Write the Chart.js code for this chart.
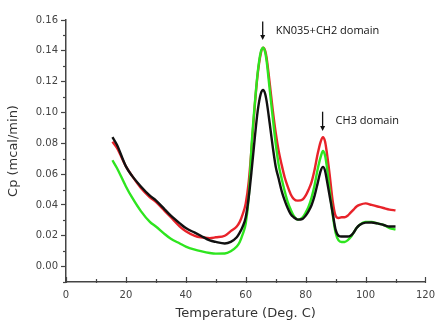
<!DOCTYPE html>
<html>
<head>
<meta charset="utf-8">
<script src="https://cdn.jsdelivr.net/npm/chart.js@4"></script>
<style>
  html, body { margin: 0; padding: 0; background: #fff; }
  #wrap { width: 438px; height: 323px; position: relative; }
</style>
</head>
<body>
<div id="wrap"><canvas id="dsc"></canvas></div>
<script>
// temperatures (Deg. C)
const temps = [15.5, 17, 20, 22, 25, 28, 30, 33, 35, 38, 40, 43, 45, 48, 50, 53, 55, 57, 58, 59, 60, 61, 62, 63, 64, 65, 65.8, 66.5, 67, 68, 69, 70, 71, 72, 73, 74, 75, 76, 77.4, 79, 80, 81, 82, 83, 84, 85, 85.8, 86.5, 87, 88, 89, 90, 91, 92, 93, 94, 95, 96, 97, 98, 100, 102, 104, 106, 108, 110];

const cpRed = [0.081, 0.077, 0.065, 0.059, 0.051, 0.045, 0.042, 0.036, 0.032, 0.026, 0.023, 0.020, 0.019, 0.0185, 0.019, 0.020, 0.023, 0.026, 0.029, 0.034, 0.041, 0.055, 0.078, 0.104, 0.125, 0.138, 0.142, 0.140, 0.135, 0.119, 0.102, 0.087, 0.075, 0.066, 0.058, 0.052, 0.047, 0.044, 0.0428, 0.0435, 0.046, 0.050, 0.055, 0.063, 0.073, 0.081, 0.084, 0.081, 0.075, 0.060, 0.043, 0.033, 0.0315, 0.032, 0.032, 0.033, 0.035, 0.037, 0.039, 0.040, 0.041, 0.040, 0.039, 0.038, 0.037, 0.0365];

const cpBlack = [0.084, 0.079, 0.065, 0.059, 0.052, 0.046, 0.043, 0.037, 0.033, 0.028, 0.025, 0.022, 0.020, 0.017, 0.016, 0.015, 0.016, 0.019, 0.022, 0.026, 0.032, 0.045, 0.063, 0.083, 0.101, 0.112, 0.1146, 0.112, 0.107, 0.093, 0.078, 0.065, 0.057, 0.049, 0.043, 0.038, 0.034, 0.032, 0.0305, 0.031, 0.033, 0.036, 0.040, 0.046, 0.054, 0.062, 0.0647, 0.062, 0.057, 0.046, 0.035, 0.024, 0.020, 0.0195, 0.0195, 0.0195, 0.020, 0.022, 0.025, 0.027, 0.0285, 0.0286, 0.028, 0.027, 0.026, 0.026];

const cpGreen = [0.069, 0.064, 0.052, 0.045, 0.036, 0.029, 0.026, 0.021, 0.018, 0.015, 0.013, 0.011, 0.010, 0.0088, 0.0084, 0.0085, 0.010, 0.013, 0.016, 0.021, 0.028, 0.045, 0.080, 0.105, 0.126, 0.139, 0.142, 0.139, 0.133, 0.115, 0.097, 0.080, 0.066, 0.057, 0.049, 0.042, 0.037, 0.033, 0.0305, 0.032, 0.035, 0.039, 0.045, 0.053, 0.063, 0.071, 0.075, 0.072, 0.066, 0.050, 0.034, 0.022, 0.017, 0.016, 0.016, 0.017, 0.019, 0.022, 0.025, 0.027, 0.029, 0.029, 0.028, 0.027, 0.025, 0.024];

// arrow notes: [x, yTop, yBottom, text]
const notes = [
  [66, 0.159, 0.147, "KN035+CH2 domain"],
  [86, 0.1005, 0.088, "CH3 domain"]
];

function pts(arr) {
  return temps.map((t, i) => ({ x: t, y: arr[i] }));
}

// x ticks point up into the plot, minor ticks, arrows with labels
const extras = {
  id: "extras",
  afterDraw(chart) {
    const ctx = chart.ctx;
    const xs = chart.scales.x, ys = chart.scales.y;
    ctx.save();
    ctx.strokeStyle = "#444";
    ctx.lineWidth = 1.2;
    for (let v = 0; v <= 120; v += 10) {
      const px = Math.round(xs.getPixelForValue(v)) + 0.5;
      const len = v % 20 === 0 ? 5 : 3;
      ctx.beginPath();
      ctx.moveTo(px, xs.top + 1);
      ctx.lineTo(px, xs.top - len);
      ctx.stroke();
    }
    for (let v = -0.01; v < 0.16; v += 0.02) {
      const py = Math.round(ys.getPixelForValue(v)) + 0.5;
      ctx.beginPath();
      ctx.moveTo(ys.right, py);
      ctx.lineTo(ys.right - 3, py);
      ctx.stroke();
    }
    // arrows
    ctx.strokeStyle = "#111";
    ctx.fillStyle = "#111";
    ctx.lineWidth = 1.3;
    ctx.font = "11px 'Open Sans', sans-serif";
    ctx.textBaseline = "middle";
    notes.forEach(n => {
      const px = xs.getPixelForValue(n[0]) - 1;
      const y1 = ys.getPixelForValue(n[1]);
      const y2 = ys.getPixelForValue(n[2]);
      ctx.beginPath();
      ctx.moveTo(px, y1);
      ctx.lineTo(px, y2 - 4);
      ctx.stroke();
      ctx.beginPath();
      ctx.moveTo(px - 2.5, y2 - 5);
      ctx.lineTo(px + 2.5, y2 - 5);
      ctx.lineTo(px, y2);
      ctx.closePath();
      ctx.fill();
      ctx.fillText(n[3], px + 13, (y1 + y2) / 2);
    });
    ctx.restore();
  }
};

new Chart(document.getElementById("dsc"), {
  type: "line",
  data: {
    datasets: [
      { label: "black", data: pts(cpBlack), borderColor: "#111111", order: 1 },
      { label: "green", data: pts(cpGreen), borderColor: "#2ee51f", order: 2 },
      { label: "red", data: pts(cpRed), borderColor: "#e8232a", order: 3 }
    ]
  },
  options: {
    responsive: true,
    maintainAspectRatio: false,
    animation: false,
    datasets: {
      line: { borderWidth: 2.4, pointRadius: 0, cubicInterpolationMode: "monotone", fill: false }
    },
    layout: { padding: { top: 20, right: 11, left: 0, bottom: 0 } },
    plugins: { legend: { display: false }, tooltip: { enabled: false } },
    scales: {
      x: {
        type: "linear",
        min: 0, max: 120,
        afterFit(s) { s.height = 41; },
        ticks: { stepSize: 20, color: "#444", font: { family: "DejaVu Sans", size: 10 }, padding: 3, maxRotation: 0 },
        grid: { drawOnChartArea: false, tickLength: 4, tickColor: "rgba(0,0,0,0)" },
        border: { color: "#444", width: 1.5 },
        title: { display: true, text: "Temperature (Deg. C)", color: "#333", font: { family: "DejaVu Sans", size: 13 }, padding: { top: 0, bottom: 2 } }
      },
      y: {
        min: -0.01, max: 0.16,
        afterFit(s) { s.width = 66; },
        afterBuildTicks(s) {
          s.ticks = [0, 0.02, 0.04, 0.06, 0.08, 0.10, 0.12, 0.14, 0.16].map(v => ({ value: v }));
        },
        ticks: { color: "#444", font: { family: "DejaVu Sans", size: 10 }, padding: 3, callback: v => v.toFixed(2) },
        grid: { drawOnChartArea: false, tickLength: 5, tickColor: "#444", tickWidth: 1.2 },
        border: { color: "#444", width: 1.5 },
        title: { display: true, text: "Cp (mcal/min)", color: "#333", font: { family: "DejaVu Sans", size: 13 }, padding: { top: 6, bottom: 0 } }
      }
    }
  },
  plugins: [extras]
});
</script>
</body>
</html>
